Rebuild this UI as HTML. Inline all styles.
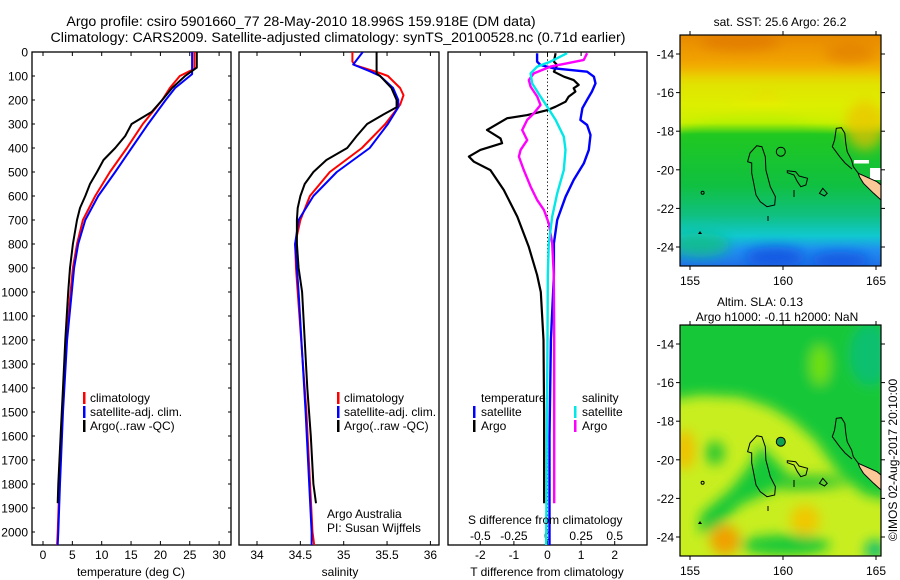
<!DOCTYPE html>
<html><head><meta charset="utf-8"><style>
html,body{margin:0;padding:0;background:#fff;}
svg{display:block;font-family:"Liberation Sans",sans-serif;}
text{fill:#000;}
</style></head><body>
<svg id="fig" width="900" height="580" viewBox="0 0 900 580" xmlns="http://www.w3.org/2000/svg">
<defs>
<clipPath id="c1"><rect x="32" y="52" width="199" height="493"/></clipPath>
<clipPath id="c2"><rect x="239" y="52" width="200" height="493"/></clipPath>
<clipPath id="c3"><rect x="448" y="52" width="199" height="493"/></clipPath>
<clipPath id="cm"><rect x="0" y="0" width="201" height="231"/></clipPath>
<filter id="bl" x="-50%" y="-50%" width="200%" height="200%"><feGaussianBlur stdDeviation="6"/></filter>
<linearGradient id="sst" x1="0" y1="0" x2="0" y2="1">
<stop offset="0" stop-color="#e88a00"/><stop offset="0.1" stop-color="#f0a000"/>
<stop offset="0.2" stop-color="#f5c000"/><stop offset="0.3" stop-color="#e6ee00"/>
<stop offset="0.38" stop-color="#b8f000"/><stop offset="0.43" stop-color="#20c820"/>
<stop offset="0.65" stop-color="#10c040"/><stop offset="0.78" stop-color="#10c080"/>
<stop offset="0.87" stop-color="#10c8d0"/><stop offset="0.93" stop-color="#2090f0"/>
<stop offset="1" stop-color="#2070e8"/></linearGradient>
</defs>

<g>
<text x="301" y="26" font-size="14.2" text-anchor="middle">Argo profile: csiro 5901660_77 28-May-2010 18.996S 159.918E (DM data)</text>
<text x="338" y="42" font-size="14.2" text-anchor="middle">Climatology: CARS2009. Satellite-adjusted climatology: synTS_20100528.nc (0.71d earlier)</text>
</g>

<g id="axes"></g>
<g id="series"></g>

<g font-size="12">
<rect x="83" y="392" width="2.5" height="12" fill="#f00"/><text x="90" y="402">climatology</text>
<rect x="83" y="406" width="2.5" height="12" fill="#00f"/><text x="90" y="416">satellite-adj. clim.</text>
<rect x="83" y="420" width="2.5" height="12" fill="#000"/><text x="90" y="430">Argo(..raw -QC)</text>
</g>
<g font-size="12">
<rect x="337" y="392" width="2.5" height="12" fill="#f00"/><text x="344" y="402">climatology</text>
<rect x="337" y="406" width="2.5" height="12" fill="#00f"/><text x="344" y="416">satellite-adj. clim.</text>
<rect x="337" y="420" width="2.5" height="12" fill="#000"/><text x="344" y="430">Argo(..raw -QC)</text>
<text x="327" y="518">Argo Australia</text>
<text x="327" y="532">PI: Susan Wijffels</text>
</g>
<g font-size="12">
<text x="481" y="402">temperature</text>
<rect x="473" y="406" width="2.5" height="12" fill="#00f"/><text x="481" y="416">satellite</text>
<rect x="473" y="420" width="2.5" height="12" fill="#000"/><text x="481" y="430">Argo</text>
<text x="582" y="402">salinity</text>
<rect x="574" y="406" width="2.5" height="12" fill="#00e8e8"/><text x="582" y="416">satellite</text>
<rect x="574" y="420" width="2.5" height="12" fill="#f0f"/><text x="582" y="430">Argo</text>
<text x="468" y="524">S difference from climatology</text>
</g>

<g id="maps"></g>
<text transform="translate(897,460) rotate(-90)" font-size="12" text-anchor="middle">©IMOS 02-Aug-2017 20:10:00</text>
</svg>
<script>
// ---- data ----
const depthTicks = [0,100,200,300,400,500,600,700,800,900,1000,1100,1200,1300,1400,1500,1600,1700,1800,1900,2000];
const tempTicks = [0,5,10,15,20,25,30];
const salTicks = [34,34.5,35,35.5,36];
const salTickLabels = ["34","34.5","35","35.5","36"];
const tDiffTicks = [-2,-1,0,1,2];
const sDiffTicks = [-0.5,-0.25,0,0.25,0.5];
const sDiffTickLabels = ["-0.5","-0.25","0","0.25","0.5"];

const tArgoP = [0,65,100,150,200,250,300,350,400,450,500,550,600,650,700,800,900,1000,1200,1400,1600,1800,1880];
const tArgoV = [26.2,26.2,24.2,22.0,20.3,18.5,15.1,14.0,12.3,10.3,9.2,8.0,7.2,6.3,5.8,5.1,4.6,4.3,3.8,3.4,3.0,2.6,2.5];
const tClimP = [0,70,100,150,200,300,400,500,600,700,800,900,1000,1200,1500,1800,2000,2055];
const tClimV = [25.8,25.8,23.3,21.6,20.3,17,14.3,11.4,8.9,6.8,5.8,5.1,4.7,4.0,3.3,2.8,2.5,2.4];
const tSatP = [0,92,100,150,200,300,400,500,600,700,800,900,1000,1200,1500,1800,2000,2055];
const tSatV = [25.4,25.4,25.0,22.5,20.9,17.9,15.1,12.3,9.4,7.2,6.0,5.3,4.9,4.1,3.4,2.9,2.6,2.5];

const sArgoP = [0,90,100,150,200,230,260,300,350,400,450,500,550,600,650,700,800,900,1000,1200,1400,1600,1800,1880];
const sArgoV = [35.38,35.38,35.42,35.55,35.61,35.61,35.46,35.27,35.15,35.04,34.80,34.65,34.55,34.50,34.47,34.46,34.46,34.48,34.52,34.55,34.58,34.62,34.65,34.68];
const sClimP = [0,40,55,83,100,150,180,220,300,400,500,600,700,800,900,1000,1500,2000,2055];
const sClimV = [35.10,35.10,35.13,35.38,35.51,35.65,35.69,35.65,35.48,35.21,34.84,34.61,34.50,34.44,34.45,34.47,34.57,34.64,34.66];
const sSatP = [0,52,80,100,150,200,230,300,400,500,600,700,800,900,1000,1500,2000,2055];
const sSatV = [35.22,35.11,35.30,35.42,35.57,35.63,35.63,35.51,35.30,34.92,34.65,34.48,34.44,34.46,34.48,34.56,34.63,34.63];

const dTArgoP = [5,40,54,82,103,117,137,151,165,186,207,228,242,253,263,276,325,360,380,408,436,457,492,575,686,811,929,1000,1200,1500,1880];
const dTArgoV = [0.24,0.19,0.29,0.19,0.49,0.78,0.93,0.78,0.83,0.63,0.54,0.24,0,-0.31,-0.6,-1.2,-1.8,-1.4,-1.35,-2.0,-2.34,-2.19,-1.7,-1.3,-0.9,-0.56,-0.31,-0.2,-0.12,-0.1,-0.1];
const dTSatP = [5,40,54,68,82,103,131,165,199,234,283,304,346,408,464,533,603,700,797,929,1200,1600,2055];
const dTSatV = [-0.31,-0.31,-0.21,0.19,1.18,1.38,1.43,1.32,1.18,1.04,0.98,1.18,1.28,1.23,1.08,0.78,0.54,0.29,0.19,0.19,0.1,0.06,0.06];
const dSSatP = [5,40,61,89,131,186,228,283,353,408,492,589,686,797,929,1200,1600,2055];
const dSSatV = [0.146,0.022,-0.077,-0.126,-0.114,-0.052,-0.002,0.06,0.121,0.134,0.121,0.072,0.035,0.01,0.002,0,-0.005,-0.01];
const dSArgoP = [5,33,47,61,89,117,144,186,221,256,283,325,367,408,436,492,561,617,658,714,797,929,1200,1500,1880];
const dSArgoV = [0.295,0.27,0.146,0.022,-0.102,-0.139,-0.126,-0.077,-0.052,-0.102,-0.151,-0.188,-0.151,-0.2,-0.213,-0.176,-0.126,-0.077,-0.027,0.01,0.035,0.047,0.05,0.05,0.05];

const lonTicks = [155,160,165];
const latTicks = [-14,-16,-18,-20,-22,-24];

// ---- scales ----
const yP = p => 52 + 0.24*p;
const xT = t => 43 + 5.87*t;
const xS = s => 257 + 86.7*(s-34);
const xDT = t => 547.5 + 33.6*t;
const xDS = s => 547.5 + 134.4*s;
const NS = "http://www.w3.org/2000/svg";
function mk(tag, attrs, parent){ const e=document.createElementNS(NS,tag); for(const k in attrs) e.setAttribute(k,attrs[k]); parent.appendChild(e); return e; }

const axes = document.getElementById('axes');
const panels = [[32,231,'temperature-panel'],[239,439,'salinity-panel'],[448,647,'difference-panel']];
panels.forEach(([x0,x1,nm])=>{
  const r = mk('rect',{x:x0,y:52,width:x1-x0,height:493,fill:'none',stroke:'#000','stroke-width':1.3},axes);
  
  
});
depthTicks.forEach(p=>{
  const y=yP(p);
  mk('line',{x1:32,x2:35,y1:y,y2:y,stroke:'#000'},axes);
  mk('line',{x1:228,x2:231,y1:y,y2:y,stroke:'#000'},axes);
  const t=mk('text',{x:28,y:y+4.5,'font-size':12,'text-anchor':'end'},axes);
  t.textContent=p;
  
  
});
function xticks(vals, labels, fx, ylab, top){
  vals.forEach((v,i)=>{
    const x=fx(v);
    mk('line',{x1:x,x2:x,y1:545,y2:541,stroke:'#000'},axes);
    if(top) mk('line',{x1:x,x2:x,y1:52,y2:56,stroke:'#000'},axes);
    const t=mk('text',{x:x,y:ylab,'font-size':12,'text-anchor':'middle'},axes);
    t.textContent=labels?labels[i]:v;
    
    
  });
}
xticks(tempTicks,null,xT,559,true);
xticks(salTicks,salTickLabels,xS,559,true);
xticks(tDiffTicks,null,xDT,559,false);
sDiffTicks.forEach((v,i)=>{
  const x=xDS(v);
  mk('line',{x1:x,x2:x,y1:52,y2:56,stroke:'#000'},axes);
  const t=mk('text',{x:x,y:540,'font-size':12,'text-anchor':'middle'},axes);
  t.textContent=sDiffTickLabels[i];
  
  
});
[[131,'temperature (deg C)','temperature-axis-title'],[340,'salinity','salinity-axis-title'],[547,'T difference from climatology','t-diff-axis-title']].forEach(([x,s,n])=>{
  const t=mk('text',{x:x,y:576,'font-size':12,'text-anchor':'middle'},axes);
  t.textContent=s;
  
  
});
mk('line',{x1:547.5,x2:547.5,y1:52,y2:545,stroke:'#000','stroke-dasharray':'1.2,2.5','stroke-width':1},axes);

const ser = document.getElementById('series');
function line(P,V,fx,col,clip,name,w){
  const pts=P.map((p,i)=>fx(V[i]).toFixed(1)+','+yP(p).toFixed(1)).join(' ');
  const e=mk('polyline',{points:pts,fill:'none',stroke:col,'stroke-width':w||2,'stroke-linejoin':'round','clip-path':'url(#'+clip+')'},ser);
  
  
}
line(tClimP,tClimV,xT,'#f00','c1','temperature-climatology-line');
line(tSatP,tSatV,xT,'#00f','c1','temperature-satellite-line');
line(tArgoP,tArgoV,xT,'#000','c1','temperature-argo-line');
line(sClimP,sClimV,xS,'#f00','c2','salinity-climatology-line');
line(sSatP,sSatV,xS,'#00f','c2','salinity-satellite-line');
line(sArgoP,sArgoV,xS,'#000','c2','salinity-argo-line');
line(dTArgoP,dTArgoV,xDT,'#000','c3','t-diff-argo-line',2.2);
line(dTSatP,dTSatV,xDT,'#00f','c3','t-diff-satellite-line',2.4);
line(dSArgoP,dSArgoV,xDS,'#f0f','c3','s-diff-argo-line',2.4);
line(dSSatP,dSSatV,xDS,'#00e8e8','c3','s-diff-satellite-line',2.4);

const maps=document.getElementById('maps');
const mx=680, mw=201, mh=231;
const xLon = l => 690 + 18.6*(l-155) - mx;
const yLat = l => (54-35) + 19.3*(-14 - l);
function islands(g){
  const s={fill:'none',stroke:'#000','stroke-width':1};
  mk('polygon',Object.assign({points:'76.8,110.7 81.9,111.7 85.3,121.7 85.9,135 90.3,151.7 95.4,161.7 94.7,170 87,171.7 80.2,166.7 76,160 71.7,138 71.7,128 67.6,126.7 70,118'},s),g);
  mk('circle',Object.assign({cx:100.8,cy:116.7,r:4.5},s),g);
  mk('polygon',Object.assign({points:'107.3,135.7 115.7,136.7 119.1,141 127.6,143.3 125.9,150 120.8,151.7 117.4,146.7 114,140 107.3,137.7'},s),g);
  mk('polygon',Object.assign({points:'142.8,153.3 147.2,158.3 144.5,161 139.4,158.3'},s),g);
  mk('line',Object.assign({x1:114,y1:155,x2:114,y2:162},s),g);
  mk('polyline',Object.assign({points:'178.3,138.3 173.3,131.7 171.6,125 167.2,116.7 165.8,108.3 164.8,98.3 161.4,92.7 156.3,93.3 154.6,105 152.3,111.7 159.7,121.7 165,128 172,134'},s),g);
  mk('polygon',{points:'178.3,138.3 197,146.7 201,150 201,165 193.6,158.3 183.4,148.3 179.4,141.7',fill:'#fbc898',stroke:'#000','stroke-width':1},g);
  mk('circle',Object.assign({cx:22.6,cy:157.7,r:1.5},s),g);
  mk('polygon',{points:'18,199 22,199 20,196',fill:'#000'},g);
  mk('line',Object.assign({x1:88,y1:181,x2:88,y2:186},s),g);
}
function mapFrame(y0,name,drawBg){
  const g=mk('g',{transform:'translate('+mx+','+y0+')'},maps);
  
  
  const inner=mk('g',{'clip-path':'url(#cm)'},g);
  drawBg(inner);
  islands(inner);
  mk('rect',{x:0,y:0,width:mw,height:mh,fill:'none',stroke:'#000','stroke-width':1.2},g);
  lonTicks.forEach(l=>{
    const x=xLon(l);
    mk('line',{x1:x,x2:x,y1:0,y2:-4,stroke:'#000'},g);
    mk('line',{x1:x,x2:x,y1:mh,y2:mh+4,stroke:'#000'},g);
    const t=mk('text',{x:x,y:mh+19,'font-size':12,'text-anchor':'middle'},g);
    t.textContent=l;
    
    
  });
  latTicks.forEach(l=>{
    const y=yLat(l);
    mk('line',{x1:0,x2:-4,y1:y,y2:y,stroke:'#000'},g);
    mk('line',{x1:mw,x2:mw+4,y1:y,y2:y,stroke:'#000'},g);
    const t=mk('text',{x:-6,y:y+4.5,'font-size':12,'text-anchor':'end'},g);
    t.textContent=l;
    
    
  });
  return g;
}
mapFrame(35,'sst-map',g=>{
  mk('rect',{x:0,y:0,width:mw,height:mh,fill:'url(#sst)'},g);
  const b=mk('g',{filter:'url(#bl)'},g);
  mk('path',{d:'M-10,95 L30,80 L60,70 L90,60 L110,75 L130,85 L150,88 L170,95 L210,90 L210,40 L-10,40 Z',fill:'#d8f000',opacity:0.7},b);
  mk('ellipse',{cx:60,cy:6,rx:40,ry:10,fill:'#e07800',opacity:0.7},b);
  mk('ellipse',{cx:170,cy:18,rx:25,ry:10,fill:'#e07800',opacity:0.6},b);
  mk('ellipse',{cx:185,cy:90,rx:20,ry:25,fill:'#f0c000',opacity:0.7},b);
  mk('ellipse',{cx:95,cy:222,rx:30,ry:10,fill:'#1050e0',opacity:0.8},b);
  mk('ellipse',{cx:160,cy:225,rx:30,ry:8,fill:'#1050e0',opacity:0.8},b);
  mk('ellipse',{cx:20,cy:210,rx:30,ry:12,fill:'#10c080',opacity:0.8},b);
  mk('rect',{x:174,y:125,width:15,height:3.5,fill:'#fff'},g);
  mk('rect',{x:190,y:133,width:11,height:12,fill:'#fff'},g);
});
mapFrame(325,'sla-map',g=>{
  mk('rect',{x:0,y:0,width:mw,height:mh,fill:'#c8ee20'},g);
  const b=mk('g',{filter:'url(#bl)'},g);
  mk('path',{d:'M-10,-10 L210,-10 L210,175 L185,170 L160,150 L135,115 L112,95 L90,82 L60,72 L20,70 L-10,75 Z',fill:'#18c838'},b);
  mk('ellipse',{cx:140,cy:40,rx:10,ry:20,fill:'#70e010'},b);
  mk('ellipse',{cx:190,cy:30,rx:20,ry:30,fill:'#10c070'},b);
  mk('ellipse',{cx:35,cy:128,rx:10,ry:12,fill:'#30c830'},b);
  mk('path',{d:'M80,120 L110,150 L95,165 L60,180 L40,200 L20,210 L20,190 L50,165 L70,140 Z',fill:'#18c838'},b);
  mk('path',{d:'M100,150 L150,150 L170,160 L130,165 L100,165 Z',fill:'#30c830'},b);
  mk('ellipse',{cx:105,cy:220,rx:45,ry:10,fill:'#18c838'},b);
  mk('ellipse',{cx:45,cy:215,rx:15,ry:15,fill:'#f0a000'},b);
  mk('ellipse',{cx:5,cy:125,rx:10,ry:20,fill:'#f0c000'},b);
  mk('ellipse',{cx:125,cy:195,rx:15,ry:15,fill:'#f0c800'},b);
  mk('ellipse',{cx:195,cy:225,rx:10,ry:10,fill:'#10c070'},b);
  mk('circle',{cx:100.8,cy:116.7,r:4.5,fill:'#10a050'},g);
});
[['sat. SST: 25.6 Argo: 26.2',780,26,'sst-map-title'],['Altim. SLA: 0.13',760,306,'sla-map-title'],['Argo h1000: -0.11 h2000: NaN',777,321,'argo-height-title']].forEach(([s,x,y,n])=>{
  const t=mk('text',{x:x,y:y,'font-size':12,'text-anchor':'middle'},maps);
  t.textContent=s;
  
  
});
</script>
</body></html>
